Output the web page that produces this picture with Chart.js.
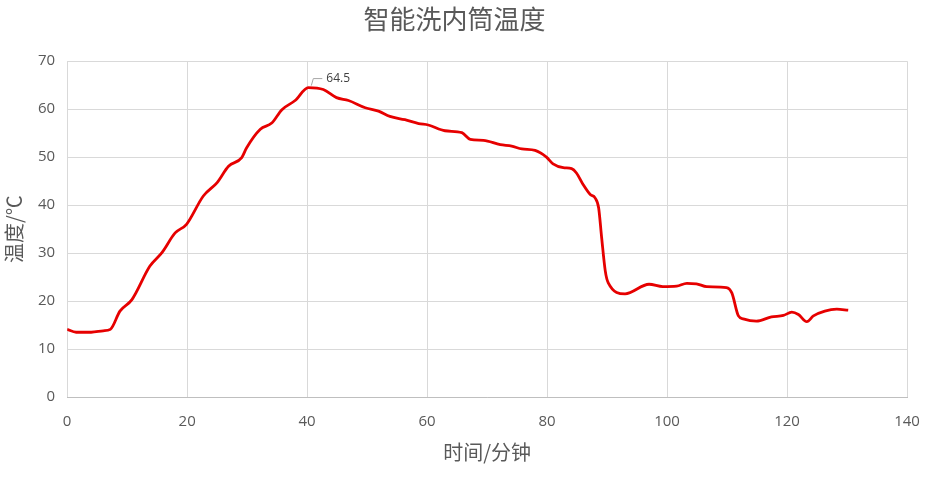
<!DOCTYPE html>
<html>
<head>
<meta charset="utf-8">
<script src="https://cdn.jsdelivr.net/npm/chart.js@4"></script>
<style>
  html, body { margin: 0; padding: 0; background: #fff; }
  #wrap { width: 930px; height: 480px; }
</style>
</head>
<body>
<div id="wrap"><canvas id="chart"></canvas></div>
<script>
// time in minutes
var minutes = [0, 1.5, 4, 6, 7.2, 8.8, 10.8, 13.8, 15.8, 18, 19.9, 22.7, 25, 26.9, 29.1, 29.9,
  32.2, 34.1, 35.8, 38, 40.2, 42.7, 44.9, 46.9, 49.7, 51.9, 53.8, 56.3, 58.6, 60.2, 63, 65.8,
  67.2, 69.4, 72.2, 74.1, 75.8, 78, 79.9, 81, 82.7, 84.1, 84.9, 86, 87.2, 88, 88.6, 89.1, 89.7,
  90.2, 93, 97, 99.3, 101.6, 103.3, 104.9, 106.6, 109.9, 110.8, 111.9, 112.7, 114.9, 117.4,
  119.4, 120.8, 121.9, 123.3, 124.4, 126.3, 128.3, 130.2];
// drum temperature in degrees C
var temps = [14.1, 13.5, 13.5, 13.8, 14.1, 17.9, 20.3, 27.3, 30.1, 34.2, 36, 41.9, 44.7, 48.1, 49.9, 51.9,
  55.8, 57.1, 59.9, 61.8, 64.5, 64.1, 62.4, 61.8, 60.3, 59.6, 58.5, 57.8, 57, 56.7, 55.5, 55.1,
  53.7, 53.5, 52.6, 52.3, 51.7, 51.4, 50, 48.6, 47.8, 47.6, 46.7, 44.3, 42.2, 41.5, 39.4, 33.2, 26.3,
  23.8, 21.5, 23.5, 23, 23.1, 23.7, 23.6, 23, 22.8, 21.7, 16.9, 16.3, 15.8, 16.7,
  17, 17.7, 17.2, 15.7, 16.9, 17.9, 18.3, 18.1];
var xTicks = [0, 20, 40, 60, 80, 100, 120, 140];
var yTicks = [0, 10, 20, 30, 40, 50, 60, 70];
var peakIndex = 20;

var points = minutes.map(function (m, i) { return { x: m, y: temps[i] }; });
var font = '"Noto Sans CJK SC", "Noto Sans", sans-serif';
var numFont = '"Open Sans", "Noto Sans", sans-serif';

// label with leader line at the peak
var peakLabel = {
  id: 'peakLabel',
  afterDatasetsDraw: function (chart) {
    var c = chart.ctx;
    var px = chart.scales.x.getPixelForValue(minutes[peakIndex]);
    var py = chart.scales.y.getPixelForValue(temps[peakIndex]);
    c.save();
    c.strokeStyle = '#a6a6a6';
    c.lineWidth = 1;
    c.beginPath();
    c.moveTo(px + 3, py - 2);
    c.lineTo(px + 5, py - 9);
    c.lineTo(px + 14, py - 9);
    c.stroke();
    c.fillStyle = '#404040';
    c.font = '12px ' + numFont;
    c.textBaseline = 'middle';
    c.fillText(temps[peakIndex].toString(), px + 18, py - 9);
    c.restore();
  }
};

var ctx = document.getElementById('chart').getContext('2d');
var chart = new Chart(ctx, {
  type: 'line',
  data: {
    datasets: [{
      data: points,
      borderColor: '#e60000',
      borderWidth: 2.8,
      pointRadius: 0,
      cubicInterpolationMode: 'monotone',
      fill: false
    }]
  },
  options: {
    responsive: true,
    maintainAspectRatio: false,
    animation: false,
    layout: { padding: { left: 2, right: 23, top: 4, bottom: 16 } },
    plugins: {
      legend: { display: false },
      tooltip: { enabled: false },
      title: {
        display: true,
        text: '智能洗内筒温度',
        color: '#595959',
        font: { family: font, size: 26, weight: 'normal' },
        padding: { top: 0, bottom: 26 }
      }
    },
    scales: {
      x: {
        type: 'linear',
        min: 0,
        max: 140,
        afterBuildTicks: function (axis) { axis.ticks = xTicks.map(function (v) { return { value: v }; }); },
        afterFit: function (axis) { axis.paddingRight = 0; },
        grid: { color: '#d9d9d9', drawTicks: false },
        border: { color: '#bfbfbf' },
        ticks: { color: '#595959', font: { family: numFont, size: 15 }, padding: 16 },
        title: { display: true, text: '时间/分钟', color: '#595959', font: { family: font, size: 20 }, padding: { top: -7, bottom: 0 } }
      },
      y: {
        min: 0,
        max: 70,
        afterBuildTicks: function (axis) { axis.ticks = yTicks.map(function (v) { return { value: v }; }); },
        grid: { color: '#d9d9d9', drawTicks: false },
        border: { display: false },
        ticks: { color: '#595959', font: { family: numFont, size: 15 }, padding: 12 },
        title: { display: true, text: '温度/℃', color: '#595959', font: { family: font, size: 20 }, padding: { top: 0, bottom: 0 } }
      }
    }
  },
  plugins: [peakLabel]
});
</script>
</body>
</html>
